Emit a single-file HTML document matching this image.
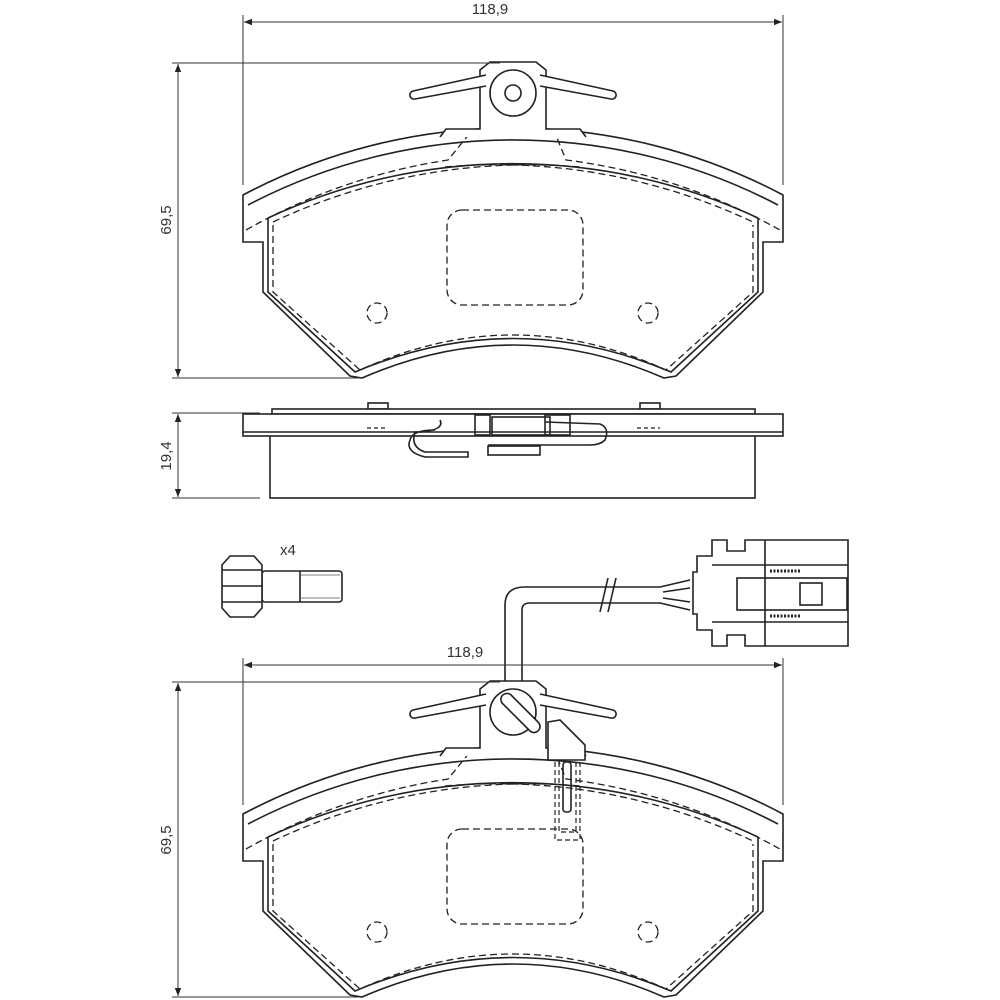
<!DOCTYPE html>
<html><head><meta charset="utf-8"><style>
html,body{margin:0;padding:0;background:#fff;}
svg{display:block;}
text{font-family:"Liberation Sans",sans-serif;font-size:15px;fill:#333;}
</style></head><body>
<svg width="1000" height="1000" viewBox="0 0 1000 1000" xmlns="http://www.w3.org/2000/svg">
<defs>
<marker id="ar" viewBox="0 0 10 10" refX="10" refY="5" markerWidth="12" markerHeight="8" orient="auto-start-reverse" markerUnits="userSpaceOnUse">
<path d="M0,1 L10,5 L0,9 Z" fill="#222"/></marker>
<g id="pad" fill="none" stroke="#222" stroke-width="1.6">
<path d="M243,195 L243,242 L263,242 L263,292 L350,376 L362,378 Q513,312 664,378 L676,376 L763,292 L763,242 L783,242 L783,195 A577,577 0 0 0 243,195 Z" fill="#fff"/>
<path d="M268,218 L268,292 L355,372 Q513,305 671,372 L758,292 L758,218"/>
<path d="M248,205 A572,572 0 0 1 778,205"/>
<path d="M268,218 A580,580 0 0 1 758,218"/>
<g stroke-dasharray="7,4" stroke-width="1.3">
<path d="M246,230 A590,590 0 0 1 448,160 L470,133 L555,133 L566,160 A590,590 0 0 1 780,230"/>
<path d="M273,222 A600,600 0 0 1 580,167"/>
<path d="M445,167 A600,600 0 0 1 753,222"/>
<path d="M273,225 L273,292 L360,370 Q513,300 666,370 L753,292 L753,225"/>
<rect x="447" y="210" width="136" height="95" rx="15"/>
<circle cx="377" cy="313" r="10"/>
<circle cx="648" cy="313" r="10"/>
</g>
<path d="M440,137 L446,129 L480,129 L480,70 L490,62 L536,62 L546,70 L546,129 L580,129 L586,137" fill="#fff"/>
<path d="M486,75 L413,91 A4,4 0 0 0 415,99 L486,86" fill="#fff"/>
<path d="M540,75 L613,91 A4,4 0 0 1 611,99 L540,86" fill="#fff"/>
<circle cx="513" cy="93" r="23" fill="#fff"/>
</g>
</defs>

<!-- TOP PAD -->
<use href="#pad"/>
<circle cx="513" cy="93" r="8" fill="none" stroke="#222" stroke-width="1.6"/>
<g stroke="#333" stroke-width="1" fill="none">
<line x1="243" y1="15" x2="243" y2="185"/><line x1="783" y1="15" x2="783" y2="185"/>
<line x1="244" y1="22" x2="782" y2="22" marker-start="url(#ar)" marker-end="url(#ar)"/>
<line x1="172" y1="63" x2="500" y2="63"/><line x1="172" y1="378" x2="360" y2="378"/>
<line x1="178" y1="64" x2="178" y2="377" marker-start="url(#ar)" marker-end="url(#ar)"/>
</g>
<text x="490" y="14" text-anchor="middle">118,9</text>
<text transform="translate(171,220) rotate(-90)" text-anchor="middle">69,5</text>

<!-- SIDE VIEW -->
<g stroke="#222" stroke-width="1.6" fill="#fff">
<rect x="270" y="435" width="485" height="63"/>
<rect x="368" y="403" width="20" height="6"/><rect x="640" y="403" width="20" height="6"/>
<rect x="272" y="409" width="483" height="5"/>
<rect x="243" y="414" width="540" height="22"/>
<line x1="243" y1="432" x2="783" y2="432"/>
<rect x="488" y="446" width="52" height="9"/>
<path d="M440,420 Q445,430 420,432 L415,432 Q410,447 425,452 L468,452 L468,457 L425,457 Q405,452 410,440 Q412,430 435,430" fill="none"/>
<path d="M545,422 L600,424 Q610,428 605,440 Q600,445 590,445 L488,445" fill="none"/>
<rect x="475" y="415" width="15" height="20" fill="none"/><rect x="492" y="417" width="58" height="18" fill="none"/>
<rect x="545" y="415" width="25" height="20" fill="none"/>
</g>
<g stroke="#222" stroke-width="1.2" stroke-dasharray="4,3"><line x1="367" y1="428" x2="388" y2="428"/><line x1="637" y1="428" x2="660" y2="428"/></g>
<g stroke="#333" stroke-width="1" fill="none">
<line x1="172" y1="413" x2="260" y2="413"/><line x1="172" y1="498" x2="260" y2="498"/>
<line x1="178" y1="414" x2="178" y2="497" marker-start="url(#ar)" marker-end="url(#ar)"/>
</g>
<text transform="translate(171,456) rotate(-90)" text-anchor="middle">19,4</text>

<!-- BOLT -->
<g stroke="#222" stroke-width="1.6" fill="#fff">
<rect x="262" y="571" width="80" height="31" rx="3"/>
<path d="M222,565 L230,556 L254,556 L262,565 L262,608 L254,617 L230,617 L222,608 Z"/>
<line x1="222" y1="586" x2="262" y2="586"/><line x1="222" y1="570" x2="262" y2="570"/><line x1="222" y1="602" x2="262" y2="602"/>
<line x1="300" y1="571" x2="300" y2="602"/>
</g>
<g stroke="#555" stroke-width="0.8"><line x1="300" y1="575" x2="340" y2="575"/><line x1="300" y1="598" x2="340" y2="598"/></g>
<text x="280" y="555">x4</text>

<!-- CONNECTOR / CABLE -->
<g stroke="#222" stroke-width="1.6" fill="none">
<path d="M505,690 L505,605 Q505,587 525,587 L660,587"/>
<path d="M522,690 L522,610 Q522,603 530,603 L660,603"/>
<line x1="600" y1="612" x2="608" y2="578"/><line x1="608" y1="612" x2="616" y2="578"/>
<path d="M660,587 L690,580 M660,603 L690,610 M663,592 L690,588 M663,598 L690,602"/>
<path d="M693,572 L697,572 L697,556 L712,556 L712,540 L727,540 L727,551 L745,551 L745,540 L848,540 L848,646 L745,646 L745,635 L727,635 L727,646 L712,646 L712,630 L697,630 L697,614 L693,614 Z" fill="#fff"/>
<line x1="765" y1="540" x2="765" y2="646"/>
<rect x="737" y="578" width="110" height="32"/>
<rect x="800" y="583" width="22" height="22"/>
<line x1="712" y1="565" x2="848" y2="565"/><line x1="712" y1="622" x2="848" y2="622"/>
<line x1="770" y1="571" x2="800" y2="571" stroke-dasharray="2,1.5" stroke-width="3"/>
<line x1="770" y1="616" x2="800" y2="616" stroke-dasharray="2,1.5" stroke-width="3"/>
</g>

<!-- BOTTOM PAD -->
<use href="#pad" transform="translate(0,619)"/>
<g stroke="#222" stroke-width="1.6" fill="#fff">
<path d="M502,703 A6,6 0 0 1 512,696 L538,722 A6,6 0 0 1 530,731 Z"/>
<path d="M548,722 L560,720 L585,745 L585,760 L548,760 Z"/>
<rect x="563" y="762" width="8" height="50" rx="3" fill="none"/>
</g>
<g stroke="#222" stroke-width="1.2" stroke-dasharray="5,3" fill="none">
<path d="M555,762 L555,840 L580,840 L580,762"/><path d="M559,762 L559,832 L576,832 L576,762"/>
</g>
<g stroke="#333" stroke-width="1" fill="none">
<line x1="243" y1="658" x2="243" y2="805"/><line x1="783" y1="658" x2="783" y2="805"/>
<line x1="244" y1="665" x2="782" y2="665" marker-start="url(#ar)" marker-end="url(#ar)"/>
<line x1="172" y1="682" x2="500" y2="682"/><line x1="172" y1="997" x2="360" y2="997"/>
<line x1="178" y1="683" x2="178" y2="996" marker-start="url(#ar)" marker-end="url(#ar)"/>
</g>
<text x="465" y="657" text-anchor="middle">118,9</text>
<text transform="translate(171,840) rotate(-90)" text-anchor="middle">69,5</text>
</svg>
</body></html>
